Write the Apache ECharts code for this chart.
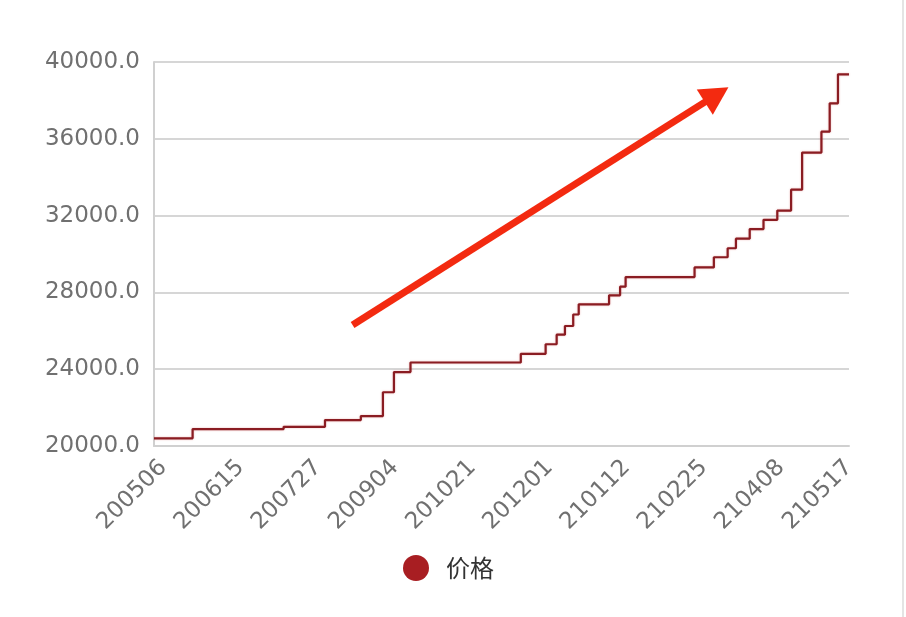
<!DOCTYPE html>
<html>
<head>
<meta charset="utf-8">
<script src="https://cdn.jsdelivr.net/npm/echarts@6/dist/echarts.min.js"></script>
<style>
  html, body { margin: 0; padding: 0; background: #ffffff; }
  #chart { width: 906px; height: 617px; }
</style>
</head>
<body>
<div id="chart"></div>
<script>
// x tick labels (dates YYMMDD), one every 28 trading days
const tickLabels = ['200506','200615','200727','200904','201021','201201','210112','210225','210408','210517'];
const daysPerTick = 28;
// trading-day index at which each new price level starts
const stepDay = [0, 14, 47, 62, 75, 83, 87, 93, 133, 142, 146, 149, 152, 154, 165, 169, 171, 196, 203, 208, 211, 216, 221, 226, 231, 235, 242, 245, 248, 252];
// price level starting at that day
const stepPrice = [20400, 20880, 21000, 21350, 21560, 22800, 23850, 24350, 24800, 25300, 25800, 26250, 26850, 27380, 27850, 28300, 28800, 29300, 29830, 30300, 30800, 31300, 31780, 32260, 33350, 35280, 36370, 37850, 39360, 39360];
// annotation arrow (trend), in data units [day, price]
const arrowFrom = [72, 26300];
const arrowTo = [204, 38300];
const seriesName = '价格';

const chart = echarts.init(document.getElementById('chart'), null, { renderer: 'canvas' });
const data = stepDay.map((d, i) => [d, stepPrice[i]]);
const maxDay = daysPerTick * (tickLabels.length - 1);
// rotated labels sit slightly to the right of their ticks in the reference
const labelNudge = 3.4;
const labelValues = tickLabels.map((_, i) => i < tickLabels.length - 1 ? i * daysPerTick + labelNudge : maxDay);

chart.setOption({
  animation: false,
  backgroundColor: '#ffffff',
  grid: { left: 154, right: 57, top: 62, bottom: 171, containLabel: false },
  legend: {
    data: [seriesName],
    left: 398,
    top: 550,
    icon: 'circle',
    itemWidth: 26,
    itemHeight: 26,
    itemGap: 10,
    textStyle: { fontSize: 24, color: '#333333', fontFamily: '"Noto Sans CJK SC", sans-serif', padding: [0, 0, 0, 12] }
  },
  xAxis: {
    type: 'value',
    min: 0,
    max: maxDay,
    interval: daysPerTick,
    axisLine: { show: true, lineStyle: { color: '#d0d0d0', width: 2 } },
    axisTick: { show: false },
    splitLine: { show: false },
    axisLabel: {
      rotate: 45,
      margin: 18,
      fontSize: 23,
      color: '#707070',
      fontFamily: '"DejaVu Sans", sans-serif',
      customValues: labelValues,
      showMinLabel: true,
      showMaxLabel: true,
      formatter: v => tickLabels[Math.round(v / daysPerTick)] || ''
    }
  },
  yAxis: {
    type: 'value',
    min: 20000,
    max: 40000,
    interval: 4000,
    axisLine: { show: true, lineStyle: { color: '#d0d0d0', width: 2 } },
    axisTick: { show: false },
    splitLine: { show: true, lineStyle: { color: '#d6d6d6', width: 2 } },
    axisLabel: {
      margin: 14,
      fontSize: 23,
      color: '#707070',
      fontFamily: '"DejaVu Sans", sans-serif',
      padding: [6, 0, 0, 0],
      formatter: v => v.toFixed(1)
    }
  },
  series: [{
    name: seriesName,
    type: 'line',
    step: 'end',
    data: data,
    showSymbol: false,
    symbol: 'circle',
    itemStyle: { color: '#a81e22' },
    lineStyle: { color: '#8a1c22', width: 2.2, shadowColor: 'rgba(210,90,90,0.45)', shadowBlur: 2 },
    markLine: {
      silent: true,
      symbol: ['none', 'triangle'],
      symbolSize: [30, 28],
      label: { show: false },
      lineStyle: { color: '#f32a10', width: 7, type: 'solid' },
      data: [[{ coord: arrowFrom }, { coord: arrowTo }]]
    }
  }],
  graphic: [{
    type: 'line',
    shape: { x1: 903, y1: 0, x2: 903, y2: 617 },
    style: { stroke: '#e4e4e4', lineWidth: 2 },
    silent: true
  }]
});
</script>
</body>
</html>
